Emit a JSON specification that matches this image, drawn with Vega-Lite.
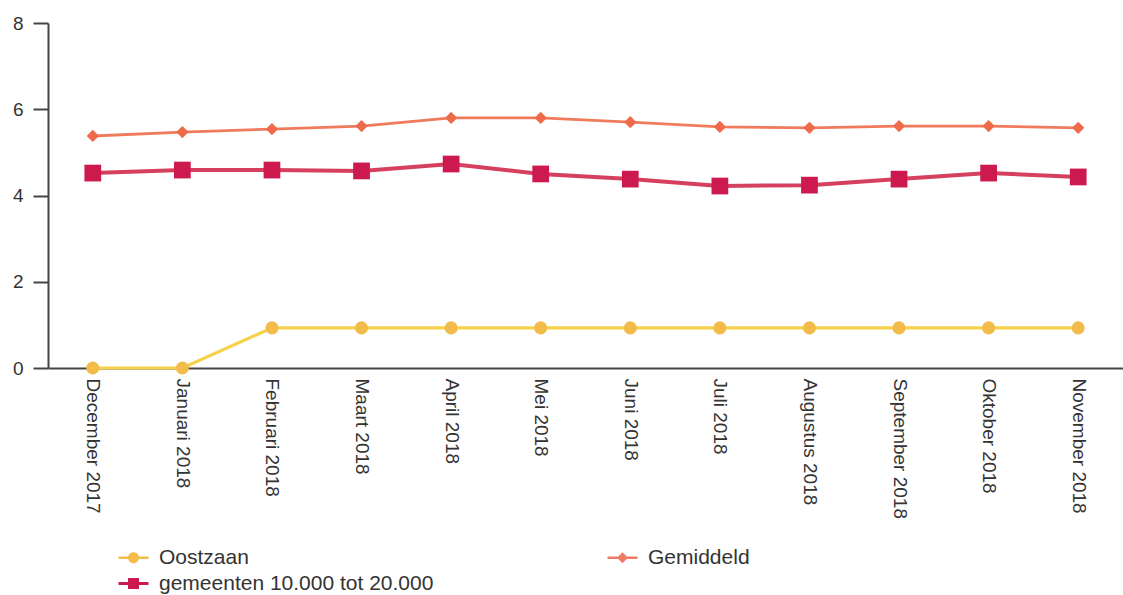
{
  "$schema": "https://vega.github.io/schema/vega-lite/v6.json",
  "autosize": "none",
  "padding": {"left": 48, "top": 23, "right": 0, "bottom": 227},
  "width": 1075,
  "height": 345,
  "background": "white",
  "config": {
    "view": {"stroke": null},
    "font": "Liberation Sans"
  },
  "data": {
    "values": [
      {"month": "December 2017", "series": "Oostzaan", "value": 0},
      {"month": "Januari 2018", "series": "Oostzaan", "value": 0},
      {"month": "Februari 2018", "series": "Oostzaan", "value": 0.93},
      {"month": "Maart 2018", "series": "Oostzaan", "value": 0.93},
      {"month": "April 2018", "series": "Oostzaan", "value": 0.93},
      {"month": "Mei 2018", "series": "Oostzaan", "value": 0.93},
      {"month": "Juni 2018", "series": "Oostzaan", "value": 0.93},
      {"month": "Juli 2018", "series": "Oostzaan", "value": 0.93},
      {"month": "Augustus 2018", "series": "Oostzaan", "value": 0.93},
      {"month": "September 2018", "series": "Oostzaan", "value": 0.93},
      {"month": "Oktober 2018", "series": "Oostzaan", "value": 0.93},
      {"month": "November 2018", "series": "Oostzaan", "value": 0.93},
      {"month": "December 2017", "series": "Gemiddeld", "value": 5.38},
      {"month": "Januari 2018", "series": "Gemiddeld", "value": 5.47},
      {"month": "Februari 2018", "series": "Gemiddeld", "value": 5.54},
      {"month": "Maart 2018", "series": "Gemiddeld", "value": 5.61},
      {"month": "April 2018", "series": "Gemiddeld", "value": 5.8},
      {"month": "Mei 2018", "series": "Gemiddeld", "value": 5.8},
      {"month": "Juni 2018", "series": "Gemiddeld", "value": 5.7},
      {"month": "Juli 2018", "series": "Gemiddeld", "value": 5.59},
      {"month": "Augustus 2018", "series": "Gemiddeld", "value": 5.57},
      {"month": "September 2018", "series": "Gemiddeld", "value": 5.61},
      {"month": "Oktober 2018", "series": "Gemiddeld", "value": 5.61},
      {"month": "November 2018", "series": "Gemiddeld", "value": 5.57},
      {"month": "December 2017", "series": "gemeenten 10.000 tot 20.000", "value": 4.52},
      {"month": "Januari 2018", "series": "gemeenten 10.000 tot 20.000", "value": 4.59},
      {"month": "Februari 2018", "series": "gemeenten 10.000 tot 20.000", "value": 4.59},
      {"month": "Maart 2018", "series": "gemeenten 10.000 tot 20.000", "value": 4.57},
      {"month": "April 2018", "series": "gemeenten 10.000 tot 20.000", "value": 4.73},
      {"month": "Mei 2018", "series": "gemeenten 10.000 tot 20.000", "value": 4.5},
      {"month": "Juni 2018", "series": "gemeenten 10.000 tot 20.000", "value": 4.38},
      {"month": "Juli 2018", "series": "gemeenten 10.000 tot 20.000", "value": 4.22},
      {"month": "Augustus 2018", "series": "gemeenten 10.000 tot 20.000", "value": 4.24},
      {"month": "September 2018", "series": "gemeenten 10.000 tot 20.000", "value": 4.38},
      {"month": "Oktober 2018", "series": "gemeenten 10.000 tot 20.000", "value": 4.52},
      {"month": "November 2018", "series": "gemeenten 10.000 tot 20.000", "value": 4.43}
    ]
  },
  "encoding": {
    "x": {
      "field": "month",
      "type": "ordinal",
      "sort": null,
      "scale": {"type": "point", "padding": 0.5},
      "axis": {
        "title": null,
        "labelAngle": 90,
        "labelAlign": "left",
        "labelBaseline": "middle",
        "labelFontSize": 19,
        "labelColor": "#333333",
        "labelPadding": 10,
        "ticks": false,
        "domainColor": "#444444",
        "domainWidth": 2,
        "grid": false
      }
    },
    "y": {
      "field": "value",
      "type": "quantitative",
      "scale": {"domain": [0, 8], "nice": false},
      "axis": {
        "title": null,
        "values": [0, 2, 4, 6, 8],
        "grid": false,
        "tickSize": 15,
        "tickWidth": 2,
        "tickColor": "#444444",
        "domainColor": "#444444",
        "domainWidth": 2,
        "labelFontSize": 19,
        "labelColor": "#333333",
        "labelPadding": 10
      }
    }
  },
  "layer": [
    {
      "transform": [{"filter": "datum.series === 'Gemiddeld'"}],
      "mark": {"type": "line", "strokeWidth": 2.8},
      "encoding": {
        "color": {
          "field": "series",
          "type": "nominal",
          "scale": {
            "domain": ["Oostzaan", "gemeenten 10.000 tot 20.000", "Gemiddeld"],
            "range": ["#f6d24a", "#d5405f", "#ef7b5c"]
          },
          "legend": {
            "title": null,
            "orient": "none",
            "legendX": 75,
            "legendY": 524,
            "columns": 2,
            "columnPadding": 173,
            "rowPadding": 4,
            "symbolSize": 400,
            "labelFontSize": 21,
            "labelColor": "#333333",
            "labelOffset": 15,
            "labelLimit": 500,
            "encode": {
              "symbols": {
                "update": {
                  "shape": {"signal": "datum.value === 'Oostzaan' ? 'M-1.5,-0.13H1.5V0.13H-1.5Z M0.55,0A0.55,0.55 0 1 1 -0.55,0A0.55,0.55 0 1 1 0.55,0Z' : datum.value === 'Gemiddeld' ? 'M-1.5,-0.12H1.5V0.12H-1.5Z M0,-0.55L0.55,0L0,0.55L-0.55,0Z' : 'M-1.5,-0.15H1.5V0.15H-1.5Z M-0.55,-0.55H0.55V0.55H-0.55Z'"},
                  "fill": {"signal": "datum.value === 'Oostzaan' ? '#f3bd4a' : datum.value === 'Gemiddeld' ? '#f07c65' : '#cc1a4e'"},
                  "strokeWidth": {"value": 0},
                  "opacity": {"value": 1}
                }
              }
            }
          }
        }
      }
    },
    {
      "transform": [{"filter": "datum.series === 'gemeenten 10.000 tot 20.000'"}],
      "mark": {"type": "line", "strokeWidth": 4},
      "encoding": {
        "color": {"field": "series", "type": "nominal"}
      }
    },
    {
      "transform": [{"filter": "datum.series === 'Oostzaan'"}],
      "mark": {"type": "line", "strokeWidth": 3.2},
      "encoding": {
        "color": {"field": "series", "type": "nominal"}
      }
    },
    {
      "transform": [{"filter": "datum.series === 'Oostzaan'"}],
      "mark": {"type": "point", "filled": true, "opacity": 1, "shape": "circle", "size": 170, "color": "#f3bb4a"}
    },
    {
      "transform": [{"filter": "datum.series === 'gemeenten 10.000 tot 20.000'"}],
      "mark": {"type": "point", "filled": true, "opacity": 1, "shape": "square", "size": 280, "color": "#cc1a4e"}
    },
    {
      "transform": [{"filter": "datum.series === 'Gemiddeld'"}],
      "mark": {"type": "point", "filled": true, "opacity": 1, "shape": "diamond", "size": 150, "color": "#ee6a4a"}
    }
  ]
}
